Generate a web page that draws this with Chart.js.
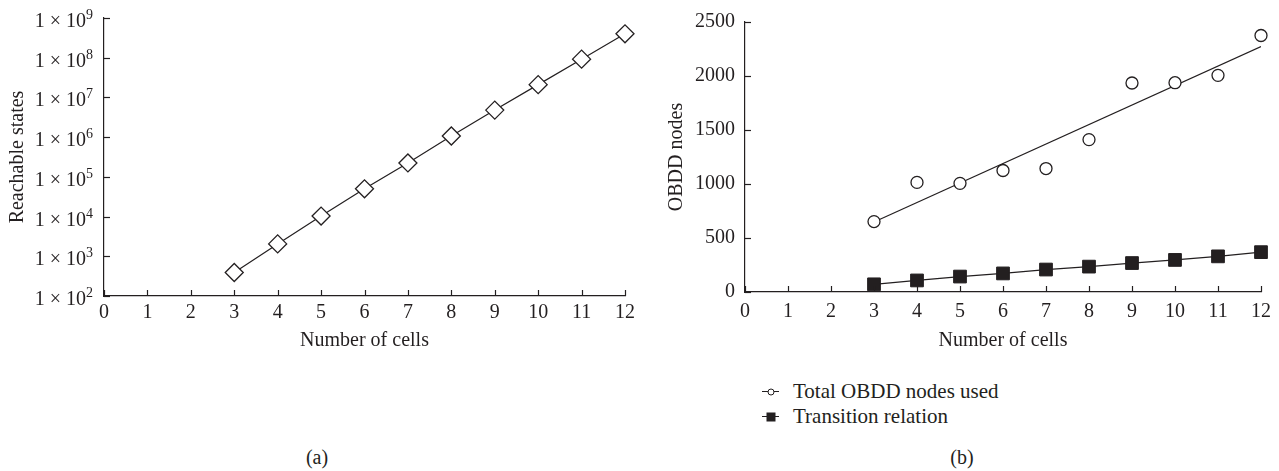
<!DOCTYPE html>
<html>
<head>
<meta charset="utf-8">
<script src="https://cdn.jsdelivr.net/npm/chart.js@4.4.1/dist/chart.umd.min.js"></script>
<style>
  body { margin: 0; background: #fff; width: 1279px; height: 471px; position: relative; overflow: hidden;
         font-family: "Liberation Serif", serif; color: #231f20; }
  #wrapA { position: absolute; left: 0; top: 0; width: 640px; height: 356px; }
  #wrapB { position: absolute; left: 640px; top: 0; width: 639px; height: 356px; }
  .cap { position: absolute; font-size: 20px; transform: translate(-50%, -50%); }
  #legend { position: absolute; left: 762px; top: 379px; font-size: 21px; line-height: 25px; }
  .item { display: flex; align-items: center; }
  .sym { position: relative; width: 17px; height: 25px; margin-right: 14px; }
  .sym .ln { position: absolute; left: 0; right: 0; top: 12px; border-top: 1.2px solid #231f20; }
  .sym .mk { position: absolute; left: 50%; top: 12.5px; transform: translate(-50%, -50%); box-sizing: border-box; }
</style>
</head>
<body>
<div id="wrapA"><canvas id="chartA"></canvas></div>
<div id="wrapB"><canvas id="chartB"></canvas></div>
<div id="legend"></div>
<div class="cap" style="left:317px; top:457px;">(a)</div>
<div class="cap" style="left:962px; top:457px;">(b)</div>
<script>
// data
const cells = [3, 4, 5, 6, 7, 8, 9, 10, 11, 12];
const reachable = [390, 2050, 10300, 50000, 224000, 1070000, 4800000, 21000000, 92000000, 400000000];
const totalNodes = [652, 1015, 1006, 1125, 1143, 1411, 1935, 1938, 2006, 2375];
const transition = [71, 107, 143, 172, 208, 235, 268, 297, 330, 369];
const xTicks = [0, 1, 2, 3, 4, 5, 6, 7, 8, 9, 10, 11, 12];
const logTicks = [1e2, 1e3, 1e4, 1e5, 1e6, 1e7, 1e8, 1e9];
const nodeTicks = [0, 500, 1000, 1500, 2000, 2500];

const ink = "#231f20";
const fam = "'Liberation Serif', serif";
const font = { family: fam, size: 20 };

// least squares line for the total nodes series
function fitLine(xs, ys) {
    const n = xs.length;
    const mx = xs.reduce((a, b) => a + b, 0) / n;
    const my = ys.reduce((a, b) => a + b, 0) / n;
    let sxy = 0, sxx = 0;
    xs.forEach((x, i) => { sxy += (x - mx) * (ys[i] - my); sxx += (x - mx) * (x - mx); });
    const slope = sxy / sxx;
    return x => my + slope * (x - mx);
}

// ticks point inwards in the original
const innerTicks = {
    id: "innerTicks",
    afterDraw(chart) {
        const { ctx, chartArea: a, scales: { x, y } } = chart;
        ctx.save();
        ctx.strokeStyle = ink;
        ctx.lineWidth = 1.2;
        x.ticks.forEach(t => {
            const px = Math.round(x.getPixelForValue(t.value)) + 0.5;
            ctx.beginPath(); ctx.moveTo(px, a.bottom); ctx.lineTo(px, a.bottom - 6); ctx.stroke();
        });
        y.ticks.forEach(t => {
            const py = Math.round(y.getPixelForValue(t.value)) + 0.5;
            ctx.beginPath(); ctx.moveTo(a.left, py); ctx.lineTo(a.left + 6, py); ctx.stroke();
        });
        ctx.restore();
    }
};

// "1 × 10^n" labels with a real raised exponent
const powerLabels = {
    id: "powerLabels",
    afterDraw(chart) {
        const { ctx, chartArea: a, scales: { y } } = chart;
        ctx.save();
        ctx.fillStyle = ink;
        ctx.textBaseline = "alphabetic";
        ctx.textAlign = "left";
        y.ticks.forEach(t => {
            const py = y.getPixelForValue(t.value);
            const base = "1 × 10";
            const exp = String(Math.round(Math.log10(t.value)));
            ctx.font = "14px " + fam;
            const ew = ctx.measureText(exp).width;
            ctx.font = "20px " + fam;
            const bw = ctx.measureText(base).width;
            const right = a.left - 11;
            ctx.fillText(base, right - ew - bw, py + 9);
            ctx.font = "14px " + fam;
            ctx.fillText(exp, right - ew, py + 1);
        });
        ctx.restore();
    }
};

function xAxis(height, pad) {
    return {
        type: "linear", min: 0, max: 12,
        afterBuildTicks: s => { s.ticks = xTicks.map(v => ({ value: v })); },
        afterFit: s => { s.height = height; },
        grid: { drawOnChartArea: false, drawTicks: false },
        border: { color: ink, width: 1.2 },
        ticks: { color: ink, font: font, padding: pad, callback: v => String(v) },
        title: { display: true, text: "Number of cells", color: ink, font: font, padding: { top: 0, bottom: 3 } }
    };
}

const commonOpts = {
    responsive: true,
    maintainAspectRatio: false,
    animation: false,
    plugins: { legend: { display: false }, tooltip: { enabled: false } }
};

new Chart(document.getElementById("chartA"), {
    type: "scatter",
    data: {
        datasets: [{
            label: "Reachable states",
            data: cells.map((c, i) => ({ x: c, y: reachable[i] })),
            showLine: true, clip: false,
            borderColor: ink, borderWidth: 1.2,
            pointStyle: "rectRot", pointRadius: 9,
            pointBackgroundColor: "#fff", pointBorderColor: ink, pointBorderWidth: 1.3
        }]
    },
    options: {
        ...commonOpts,
        layout: { padding: { top: 18, right: 15, left: 0, bottom: 0 } },
        scales: {
            x: xAxis(60, 5),
            y: {
                type: "logarithmic", min: 100, max: 1e9,
                afterBuildTicks: s => { s.ticks = logTicks.map(v => ({ value: v })); },
                afterFit: s => { s.width = 104; },
                grid: { drawOnChartArea: false, drawTicks: false },
                border: { color: ink, width: 1.2 },
                ticks: { display: false },
                title: { display: true, text: "Reachable states", color: ink, font: font, padding: { top: 6, bottom: 0 } }
            }
        }
    },
    plugins: [innerTicks, powerLabels]
});

const trend = fitLine(cells, totalNodes);
const first = cells[0], last = cells[cells.length - 1];

const chartB = new Chart(document.getElementById("chartB"), {
    type: "scatter",
    data: {
        datasets: [
            {
                label: "Total OBDD nodes used",
                data: cells.map((c, i) => ({ x: c, y: totalNodes[i] })),
                clip: false,
                pointStyle: "circle", pointRadius: 6,
                pointBackgroundColor: "#fff", pointBorderColor: ink, pointBorderWidth: 1.3
            },
            {
                label: "trend",
                data: [{ x: first, y: trend(first) }, { x: last, y: trend(last) }],
                showLine: true, borderColor: ink, borderWidth: 1.2, pointRadius: 0
            },
            {
                label: "Transition relation",
                data: cells.map((c, i) => ({ x: c, y: transition[i] })),
                showLine: true, clip: false, borderColor: ink, borderWidth: 1.2,
                pointStyle: "rect", pointRadius: 9,
                pointBackgroundColor: ink, pointBorderColor: ink, pointBorderWidth: 1
            }
        ]
    },
    options: {
        ...commonOpts,
        layout: { padding: { top: 13, right: 14, left: 0, bottom: 0 } },
        scales: {
            x: xAxis(64, 8),
            y: {
                type: "linear", min: 0, max: 2500,
                afterBuildTicks: s => { s.ticks = nodeTicks.map(v => ({ value: v })); },
                afterFit: s => { s.width = 105; },
                grid: { drawOnChartArea: false, drawTicks: false },
                border: { color: ink, width: 1.2 },
                ticks: { color: ink, font: font, padding: 10, callback: v => String(v) },
                title: { display: true, text: "OBDD nodes", color: ink, font: font, padding: { top: 25, bottom: 0 } }
            }
        }
    },
    plugins: [innerTicks]
});

// legend for (b) built from the datasets
const legend = document.getElementById("legend");
chartB.data.datasets.filter(d => d.label !== "trend").forEach(d => {
    const item = document.createElement("div");
    item.className = "item";
    const filled = d.pointStyle === "rect";
    const mk = filled
        ? "width:9px;height:9px;background:" + ink + ";"
        : "width:7px;height:7px;border:1px solid " + ink + ";border-radius:50%;background:#fff;";
    item.innerHTML = `<span class="sym"><span class="ln"></span><span class="mk" style="${mk}"></span></span>${d.label}`;
    legend.appendChild(item);
});
</script>
</body>
</html>
